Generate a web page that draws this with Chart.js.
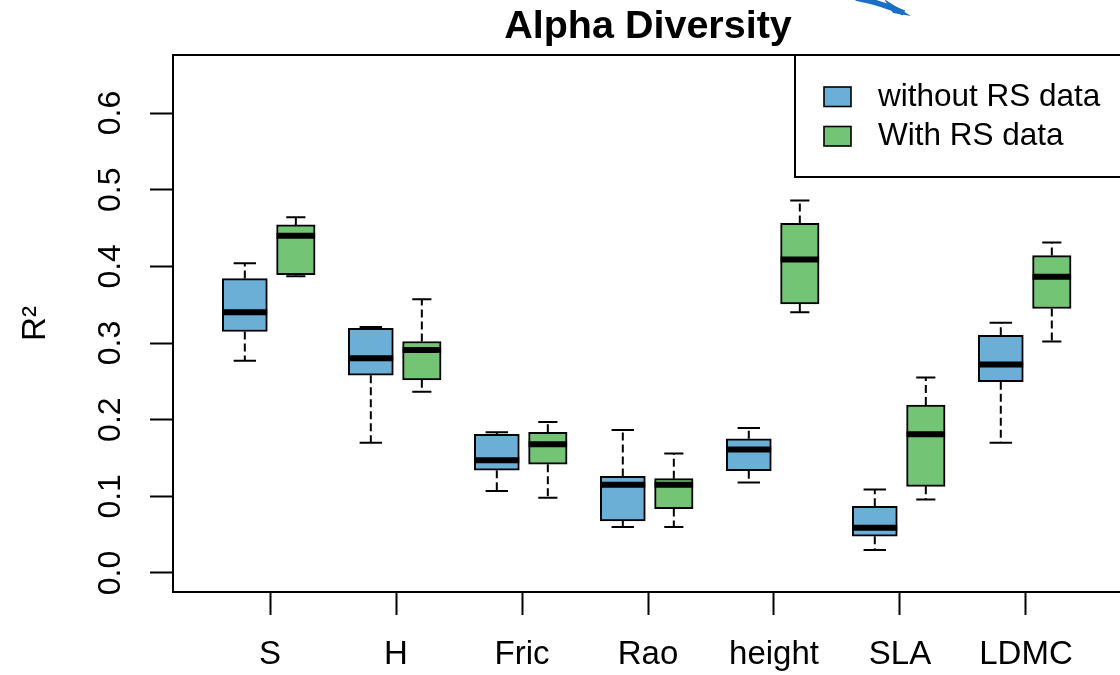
<!DOCTYPE html>
<html><head><meta charset="utf-8">
<script src="https://cdn.jsdelivr.net/npm/chart.js@4.4.0/dist/chart.umd.min.js"></script>
<style>
html,body{margin:0;padding:0;background:#fff;overflow:hidden;width:1120px;height:675px}
#wrap{position:absolute;left:0;top:0;width:1128px;height:675px}
</style>
</head><body><div id="wrap"><canvas id="c" width="1128" height="675"></canvas></div>
<script>
// ---- data ----
const categories = ['S', 'H', 'Fric', 'Rao', 'height', 'SLA', 'LDMC'];
const seriesNames = ['without RS data', 'With RS data'];

const withoutMin    = [0.277, 0.170, 0.107, 0.060, 0.118, 0.030, 0.170];
const withoutQ1     = [0.315, 0.258, 0.134, 0.068, 0.1335, 0.048, 0.2495];
const withoutMedian = [0.340, 0.280, 0.147, 0.115, 0.161, 0.059, 0.272];
const withoutQ3     = [0.384, 0.319, 0.181, 0.126, 0.175, 0.087, 0.310];
const withoutMax    = [0.404, 0.321, 0.1835, 0.1865, 0.189, 0.109, 0.3265];

const withMin    = [0.387, 0.2365, 0.098, 0.060, 0.340, 0.096, 0.302];
const withQ1     = [0.389, 0.252, 0.142, 0.084, 0.351, 0.113, 0.345];
const withMedian = [0.440, 0.291, 0.168, 0.115, 0.409, 0.181, 0.3865];
const withQ3     = [0.454, 0.302, 0.1835, 0.123, 0.456, 0.219, 0.414];
const withMax    = [0.464, 0.357, 0.197, 0.156, 0.486, 0.255, 0.431];

const yTickValues = [0, 0.1, 0.2, 0.3, 0.4, 0.5, 0.6];
const yTickLabels = ['0.0', '0.1', '0.2', '0.3', '0.4', '0.5', '0.6'];

// ---- styling / geometry (not data) ----
const FONT = '"Liberation Sans", Arial, sans-serif';
const BLUE = '#6BAED6', GREEN = '#74C476';
const OFF_A = -0.2, OFF_B = 0.205;      // position of each box relative to its category
const HALF_A = 0.178, HALF_B = 0.153;   // half box widths in axis units
const CAP_A = 0.089, CAP_B = 0.076;     // half staple widths

function boxes(q1, q3, off) {
  return categories.map((c, i) => ({ x: i + 1 + off, y: [q1[i], q3[i]] }));
}
function vsegs(a, b, off) {
  const out = [];
  categories.forEach((c, i) => {
    out.push({ x: i + 1 + off, y: a[i] }, { x: i + 1 + off, y: b[i] }, { x: i + 1 + off, y: null });
  });
  return out;
}
function hsegs(v, off, half) {
  const out = [];
  categories.forEach((c, i) => {
    out.push({ x: i + 1 + off - half, y: v[i] }, { x: i + 1 + off + half, y: v[i] }, { x: i + 1 + off + half, y: null });
  });
  return out;
}
const lineBase = { type: 'line', borderColor: '#000', borderWidth: 2, pointRadius: 0, pointHoverRadius: 0,
  fill: false, spanGaps: false, tension: 0, borderCapStyle: 'butt' };

const datasets = [
  Object.assign({}, lineBase, { label: 'w1', data: vsegs(withoutQ3, withoutMax, OFF_A), borderDash: [8, 4], order: 5 }),
  Object.assign({}, lineBase, { label: 'w2', data: vsegs(withoutQ1, withoutMin, OFF_A), borderDash: [8, 4], order: 5 }),
  Object.assign({}, lineBase, { label: 'w3', data: vsegs(withQ3, withMax, OFF_B), borderDash: [8, 4], order: 5 }),
  Object.assign({}, lineBase, { label: 'w4', data: vsegs(withQ1, withMin, OFF_B), borderDash: [8, 4], order: 5 }),
  Object.assign({}, lineBase, { label: 'c1', data: hsegs(withoutMax, OFF_A, CAP_A), order: 4 }),
  Object.assign({}, lineBase, { label: 'c2', data: hsegs(withoutMin, OFF_A, CAP_A), order: 4 }),
  Object.assign({}, lineBase, { label: 'c3', data: hsegs(withMax, OFF_B, CAP_B), order: 4 }),
  Object.assign({}, lineBase, { label: 'c4', data: hsegs(withMin, OFF_B, CAP_B), order: 4 }),
  { type: 'bar', label: seriesNames[0], data: boxes(withoutQ1, withoutQ3, OFF_A), backgroundColor: BLUE,
    borderColor: '#000', borderWidth: 2, borderSkipped: false, barThickness: 45, grouped: false, order: 2 },
  { type: 'bar', label: seriesNames[1], data: boxes(withQ1, withQ3, OFF_B), backgroundColor: GREEN,
    borderColor: '#000', borderWidth: 2, borderSkipped: false, barThickness: 38.5, grouped: false, order: 2 },
  Object.assign({}, lineBase, { label: 'm1', data: hsegs(withoutMedian, OFF_A, HALF_A), borderWidth: 6, order: 1 }),
  Object.assign({}, lineBase, { label: 'm2', data: hsegs(withMedian, OFF_B, HALF_B), borderWidth: 6, order: 1 })
];

const framePlugin = {
  id: 'frame',
  afterDraw(chart) {
    const { ctx, chartArea: a } = chart;
    ctx.save();
    ctx.strokeStyle = '#000';
    ctx.lineWidth = 2;
    ctx.strokeRect(a.left, a.top, a.right - a.left, a.bottom - a.top);
    // legend (top-right, inside plot)
    const lw = 328, lh = 122, lx = a.right - lw, ly = a.top;
    ctx.fillStyle = '#fff';
    ctx.fillRect(lx, ly, lw, lh);
    ctx.strokeRect(lx, ly, lw, lh);
    const cols = [BLUE, GREEN];
    ctx.font = '31.5px ' + FONT;
    ctx.textBaseline = 'middle';
    ctx.textAlign = 'left';
    seriesNames.forEach((name, i) => {
      const ry = ly + 32 + i * 39.5;
      ctx.fillStyle = cols[i];
      ctx.fillRect(lx + 29, ry, 27, 19.5);
      ctx.lineWidth = 1.6;
      ctx.strokeStyle = '#000';
      ctx.strokeRect(lx + 29, ry, 27, 19.5);
      ctx.fillStyle = '#000';
      ctx.fillText(name, lx + 83, ry + 10);
    });
    // blue arrow fragment at top edge
    ctx.strokeStyle = '#1a6fc4';
    ctx.lineWidth = 5.5;
    ctx.lineCap = 'butt';
    ctx.beginPath();
    ctx.moveTo(856, -2);
    ctx.quadraticCurveTo(882, 3, 904, 13);
    ctx.stroke();
    ctx.fillStyle = '#1a6fc4';
    ctx.beginPath();
    ctx.moveTo(884, -1);
    ctx.lineTo(911, 16);
    ctx.lineTo(893, 13);
    ctx.closePath();
    ctx.fill();
    ctx.restore();
  }
};

new Chart(document.getElementById('c'), {
  type: 'bar',
  data: { datasets },
  options: {
    responsive: false,
    devicePixelRatio: 1,
    animation: false,
    layout: { padding: { left: 0, top: 0, right: 5, bottom: 0 } },
    plugins: {
      legend: { display: false },
      tooltip: { enabled: false },
      title: {
        display: true, text: 'Alpha Diversity', fullSize: false, color: '#000',
        font: { family: FONT, size: 39.5, weight: 'bold', lineHeight: 1.2 },
        padding: { top: 3, bottom: 4.6 }
      }
    },
    scales: {
      x: {
        type: 'linear', min: 0.23, max: 7.77, offset: false,
        afterBuildTicks: s => { s.ticks = categories.map((c, i) => ({ value: i + 1 })); },
        afterFit: s => { s.height = 83; },
        ticks: { autoSkip: false, minRotation: 0, maxRotation: 0, padding: 20, color: '#000',
          font: { family: FONT, size: 33 },
          callback: (v) => categories[Math.round(v) - 1] ?? '' },
        grid: { offset: false, drawOnChartArea: false, drawTicks: true, tickLength: 23, tickWidth: 2, tickColor: '#000' },
        border: { display: false }
      },
      y: {
        type: 'linear', min: -0.0248, max: 0.6757,
        afterBuildTicks: s => { s.ticks = yTickValues.map(v => ({ value: v })); },
        afterFit: s => { s.width = 173; },
        ticks: { autoSkip: false, minRotation: 90, maxRotation: 90, crossAlign: 'center', padding: 17, color: '#000',
          font: { family: FONT, size: 32 },
          callback: (v, i) => yTickLabels[i] },
        grid: { drawOnChartArea: false, drawTicks: true, tickLength: 23, tickWidth: 2, tickColor: '#000' },
        border: { display: false },
        title: { display: true, text: 'R²', color: '#000', font: { family: FONT, size: 33 }, padding: { top: 16, bottom: 0 } }
      }
    }
  },
  plugins: [framePlugin]
});
</script>
</body></html>
